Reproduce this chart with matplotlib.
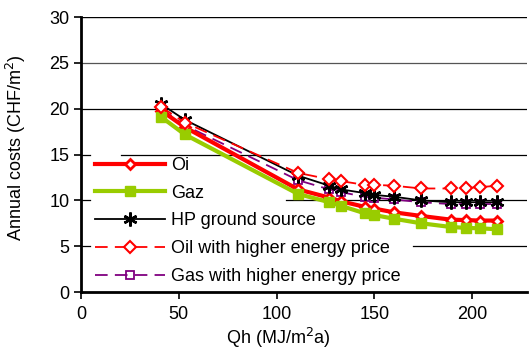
import matplotlib.pyplot as plt
import numpy as np

plt.rcParams['font.family'] = ['Liberation Sans', 'DejaVu Sans']

# heating demand Qh (MJ/m2a)
qh = [41, 53, 111, 127, 133, 145, 150, 160, 174, 189, 197, 204, 213]

# annual costs (CHF/m2)
oil = [19.8, 18.0, 11.2, 10.3, 9.9, 9.3, 9.1, 8.7, 8.3, 7.9, 7.85, 7.8, 7.8]
gas = [19.1, 17.2, 10.7, 9.8, 9.4, 8.6, 8.4, 8.0, 7.5, 7.1, 7.0, 6.95, 6.85]
hp_ground = [20.5, 18.8, 12.7, 11.6, 11.2, 10.8, 10.6, 10.4, 10.0, 9.8, 9.8, 9.8, 9.8]
oil_high = [20.2, 18.5, 13.0, 12.3, 12.1, 11.7, 11.7, 11.6, 11.3, 11.3, 11.35, 11.45, 11.6]
gas_high = [20.0, 18.2, 12.2, 11.2, 10.9, 10.4, 10.3, 10.1, 9.8, 9.6, 9.6, 9.6, 9.6]

labels = ['Oi', 'Gaz', 'HP ground source',
          'Oil with higher energy price', 'Gas with higher energy price']

fig = plt.figure(figsize=(5.3, 3.57), dpi=100)
ax = fig.add_axes([0.153, 0.182, 0.841, 0.770])

# gridlines, partly hidden behind the legend like in the original
ax.axhline(30, color='black', lw=1.0, zorder=1)
ax.axhline(25, color='#555555', lw=0.9, zorder=1)
ax.axhline(20, color='black', lw=0.9, zorder=1)
ax.axhline(15, xmin=0.09, color='black', lw=0.9, zorder=1)
ax.axhline(10, xmin=0.46, color='black', lw=0.9, zorder=1)
ax.axhline(5, xmin=0.745, color='black', lw=0.9, zorder=1)
for y in [5, 10, 15]:
    ax.axhline(y, xmin=0, xmax=0.02, color='black', lw=0.9, zorder=1)

h_gash, = ax.plot(qh, gas_high, color='#800080', lw=1.3, ls=(0, (7, 4)),
                  marker='s', ms=6, mfc='none', mec='#800080', mew=1.3, zorder=2)
h_oil, = ax.plot(qh, oil, color='red', lw=3, marker='D', ms=5,
                 mfc='white', mec='red', mew=2, zorder=3)
h_gas, = ax.plot(qh, gas, color='#99CC00', lw=3, marker='s', ms=7,
                 mfc='#99CC00', mec='#99CC00', zorder=4)
h_hp, = ax.plot(qh, hp_ground, color='black', lw=1.3, marker=(6, 2, 0),
                ms=10, mew=1.8, zorder=5)
h_oilh, = ax.plot(qh, oil_high, color='red', lw=1.3, ls=(0, (7, 4)),
                  marker='D', ms=6.5, mfc='white', mec='red', mew=1.5, zorder=6)

leg = ax.legend([h_oil, h_gas, h_hp, h_oilh, h_gash], labels,
                loc='lower left', bbox_to_anchor=(0.031, 0.025),
                frameon=False, fontsize=13, handlelength=3.9,
                handletextpad=0.3, labelspacing=0.6, borderpad=0,
                borderaxespad=0)

ax.set_xlim(0, 228)
ax.set_ylim(0, 30)
ax.set_xticks([0, 50, 100, 150, 200])
ax.set_yticks([0, 5, 10, 15, 20, 25, 30])
ax.tick_params(labelsize=13, width=1.2, length=5, direction='out', color='black')
ax.tick_params(axis='x', pad=5)
for s in ['top', 'right']:
    ax.spines[s].set_visible(False)
for s in ['left', 'bottom']:
    ax.spines[s].set_linewidth(2)

ax.set_xlabel('Qh (MJ/m$^2$a)', fontsize=13)
ax.set_ylabel('Annual costs (CHF/m$^2$)', fontsize=13)
ax.xaxis.set_label_coords(0.442, -0.125)
ax.yaxis.set_label_coords(-0.118, 0.524)

fig.savefig('out.png', dpi=100)
